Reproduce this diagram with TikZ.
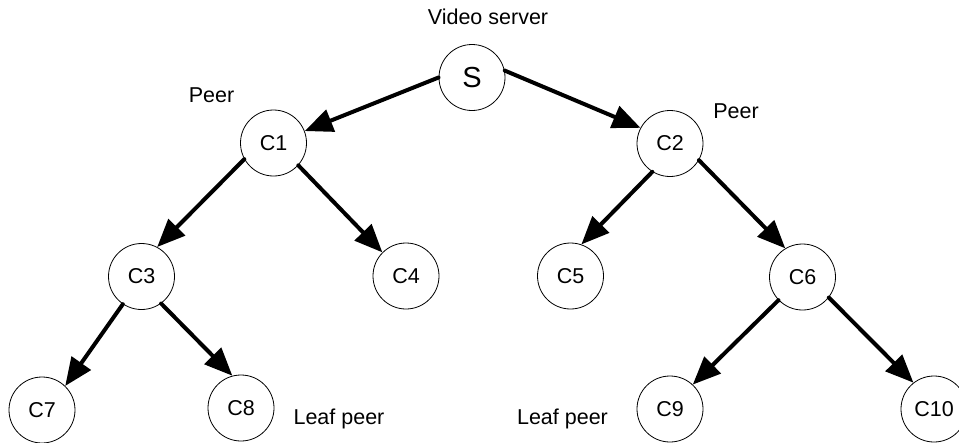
\documentclass[tikz,border=0pt]{standalone}
\usepackage{fontspec}
\setmainfont{Liberation Sans}
\usetikzlibrary{arrows.meta}
\begin{document}
\begin{tikzpicture}[x=1pt,y=-1pt,
  peer/.style={circle,draw,line width=0.8pt,minimum size=66pt,inner sep=0pt,font=\fontsize{21.5}{24}\selectfont},
  lbl/.style={anchor=base,inner sep=0pt,font=\fontsize{21.5}{24}\selectfont},
  link/.style={line width=4pt,line cap=round,-{Triangle[length=28pt,width=23pt]}}]
\useasboundingbox (0,0) rectangle (959,442);
\node[peer,font=\fontsize{29}{32}\selectfont] (S) at (472,77.5) {S};
\node[peer] (C1) at (273.5,143) {C1};
\node[peer] (C2) at (670,143.5) {C2};
\node[peer] (C3) at (141.5,276.5) {C3};
\node[peer] (C4) at (406,276) {C4};
\node[peer] (C5) at (570.5,276) {C5};
\node[peer] (C6) at (802.5,277) {C6};
\node[peer] (C7) at (42,410) {C7};
\node[peer] (C8) at (241,408) {C8};
\node[peer] (C9) at (670,409) {C9};
\node[peer] (C10) at (934,409) {C10};
\node[lbl] (vs) at (488,24) {Video server};
\node[lbl] (p1) at (211.5,102) {Peer};
\node[lbl] (p2) at (736,118) {Peer};
\node[lbl] (l1) at (339,424) {Leaf peer};
\node[lbl] (l2) at (562.5,424) {Leaf peer};
\draw[link] (S.180) -- (C1.21);
\draw[link] (S.12) -- (C2.152);
\draw[link] (C1.209) -- (C3.62);
\draw[link] (C1.-42) -- (C4.135);
\draw[link] (C2.238) -- (C5.71);
\draw[link] (C2.-30.5) -- (C6.121);
\draw[link] (C3.236.6) -- (C7.46);
\draw[link] (C3.-54) -- (C8.105);
\draw[link] (C6.224) -- (C9.47);
\draw[link] (C6.-38) -- (C10.128);
\end{tikzpicture}
\end{document}
